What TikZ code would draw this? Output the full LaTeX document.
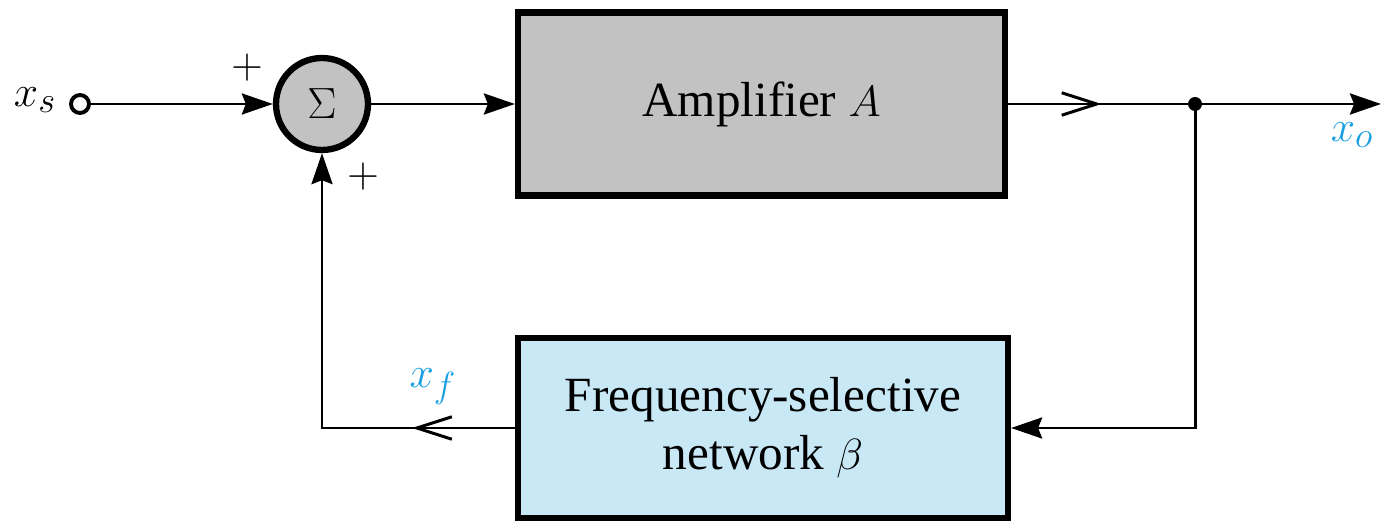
\documentclass[tikz,border=0pt]{standalone}
\usepackage{fontspec}
\setmainfont{Liberation Serif}
\usetikzlibrary{arrows.meta, decorations.markings}
\definecolor{signalblue}{RGB}{25,160,225}
\definecolor{netblue}{RGB}{200,232,246}

\begin{document}
\begin{tikzpicture}[
            x=0.02cm, y=-0.02cm,
            font=\fontsize{28}{33}\selectfont,
            block/.style={rectangle, draw, line width=3.6pt, text centered, inner sep=0pt},
            summer/.style={circle, draw, line width=3.6pt, fill=gray!48, minimum size=1.84cm, inner sep=0pt},
            terminal/.style={circle, draw, line width=2.2pt, minimum size=0.36cm, inner sep=0pt},
            arrow/.style={-{Stealth[length=0.62cm, width=0.42cm, inset=0.08cm]}, line width=1.7pt},
            openmid/.style={postaction={decorate}, decoration={markings,
                mark=at position #1 with {\arrow{Straight Barb[length=0.7cm, width=0.45cm, line width=1.7pt]}}}},
            signal/.style={text=signalblue}
        ]
        \useasboundingbox (0,0) rectangle (1381,523);

        % Define the loop elements as nodes
        \node[terminal] (input) at (80,104) {};
        \node (xs) at (35,100) {$x_s$};
        \node[summer] (sum) at (322,104) {$\Sigma$};
        \node (plusin) at (247,68) {$+$};
        \node (plusfb) at (363,177) {$+$};
        \node[block, fill=gray!48, minimum width=9.74cm, minimum height=3.66cm] (amp) at (761.5,104) {Amplifier $A$};
        \node[block, fill=netblue, minimum width=9.8cm, minimum height=3.6cm, align=center] (beta) at (763,428) {Frequency-selective\\network $\beta$};
        \coordinate (branch) at (1195,104);
        \coordinate (out) at (1381,104);
        \node[signal] (xo) at (1352,135) {$x_o$};
        \node[signal] (xf) at (433,387) {$x_f$};

        % Draw the signal paths
        \draw[arrow] (input) -- (sum);
        \draw[arrow] (sum) -- (amp);
        \draw[line width=1.7pt, openmid=0.5] (amp) -- (branch);
        \draw[arrow] (branch) -- (out);
        \draw[arrow] (branch) |- (beta);
        \draw[arrow, openmid=0.22] (beta) -| (sum);
        \fill (branch) circle (0.14cm);
    \end{tikzpicture}
\end{document}
